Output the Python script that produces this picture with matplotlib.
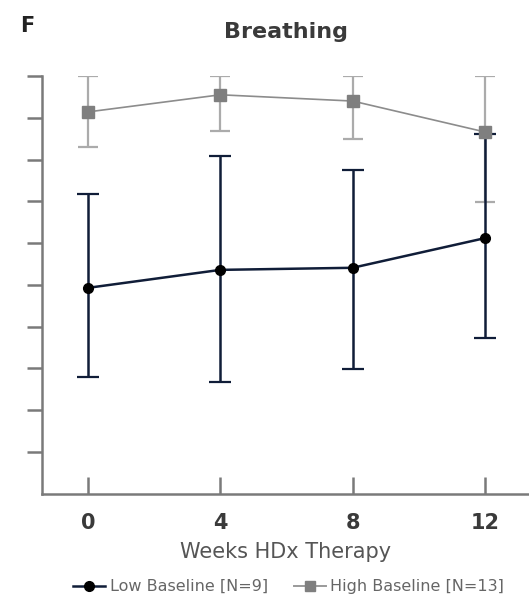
"""
Breathing panel (F): low vs high baseline over weeks of HDx therapy
"""

import matplotlib
matplotlib.use("Agg")
from matplotlib import pyplot as plt
from matplotlib.lines import Line2D

weeks = [0, 4, 8, 12]
week_labels = ["0", "4", "8", "12"]

low_mean = [49.3, 53.6, 54.1, 61.2]
low_upper = [71.8, 80.9, 77.5, 86.1]
low_lower = [28.0, 26.8, 29.9, 37.3]

high_mean = [91.4, 95.5, 94.0, 86.6]
high_upper = [100.0, 100.0, 100.0, 100.0]
high_lower = [83.0, 86.8, 84.9, 69.9]

y_ticks = [10, 20, 30, 40, 50, 60, 70, 80, 90, 100]

NAVY = "#101d38"
GRAY_MK = "#7f7f7f"
GRAY_BAR = "#ababab"
AXIS = "#7a7a7a"
TEXT = "#3a3a3a"

plt.rcParams["font.family"] = ["DejaVu Sans"]

fig = plt.figure(figsize=(5.29, 6.03), dpi=100)
ax = fig.add_axes([0.0794, 0.181, 0.9206, 0.693])


def err(mean, lo, hi):
    return [[m - l for m, l in zip(mean, lo)], [h - m for m, h in zip(mean, hi)]]


# high baseline bars first, navy bars over them, grey markers on top
ax.errorbar(weeks, high_mean, yerr=err(high_mean, high_lower, high_upper),
            fmt="none", ecolor=GRAY_BAR, elinewidth=1.6, capsize=7,
            capthick=1.6, zorder=2)
ax.plot(weeks, high_mean, color="#8c8c8c", lw=1.2, zorder=2)
ax.errorbar(weeks, low_mean, yerr=err(low_mean, low_lower, low_upper),
            fmt="-", color=NAVY, ecolor=NAVY, elinewidth=1.8, lw=1.8,
            capsize=8, capthick=1.6, marker="o", ms=7, mfc="black",
            mec="black", zorder=3)
ax.plot(weeks, high_mean, ls="none", marker="s", ms=8, color=GRAY_MK,
        zorder=4)

ax.set_xlim(-1.39, 13.33)
ax.set_ylim(0, 100)
ax.set_xticks(weeks)
ax.set_xticklabels(week_labels, fontsize=15, fontweight="bold", color=TEXT)
ax.set_yticks(y_ticks)
ax.set_yticklabels([])

for side in ("top", "right"):
    ax.spines[side].set_visible(False)
for side in ("left", "bottom"):
    ax.spines[side].set_color(AXIS)
    ax.spines[side].set_linewidth(1.8)
ax.tick_params(axis="y", direction="out", length=11, width=1.8, color=AXIS)
ax.tick_params(axis="x", direction="in", length=12, width=1.8, color=AXIS,
               pad=14)

ax.set_xlabel("Weeks HDx Therapy", fontsize=15, color="#555555", labelpad=6)
ax.set_title("Breathing", fontsize=16, fontweight="bold", color=TEXT, pad=27)
fig.text(0.038, 0.957, "F", fontsize=15, fontweight="bold", color="#222222",
         va="center")

handles = [
    Line2D([], [], color=NAVY, lw=1.8, marker="o", ms=7, mfc="black",
           mec="black"),
    Line2D([], [], color="#9a9a9a", lw=1.4, marker="s", ms=7,
           mfc=GRAY_MK, mec=GRAY_MK),
]
fig.legend(handles, ["Low Baseline [N=9]", "High Baseline [N=13]"],
           loc="center", bbox_to_anchor=(0.546, 0.027), ncol=2, frameon=False,
           fontsize=11.5, handlelength=2.0, handletextpad=0.3,
           columnspacing=1.6, labelcolor="#666666")

fig.savefig("out.png", dpi=100)
